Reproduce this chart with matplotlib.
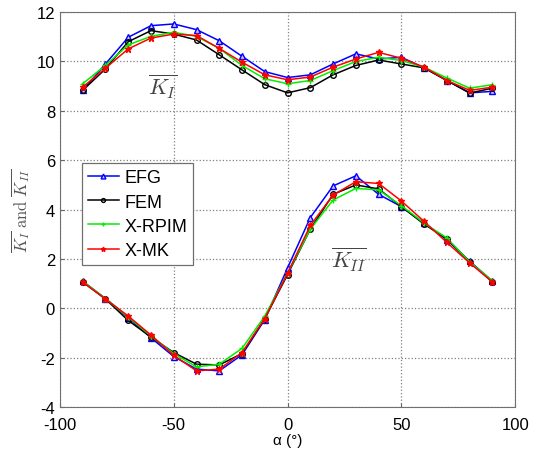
import numpy as np
import matplotlib.pyplot as plt

plt.rcParams['font.family'] = ['Liberation Sans', 'DejaVu Sans']
plt.rcParams['mathtext.fontset'] = 'cm'
plt.rcParams['axes.unicode_minus'] = False

alpha = np.arange(-90, 91, 10)

# K_I (top group)
efg_k1 = [8.83, 9.90, 10.98, 11.45, 11.52, 11.29, 10.84, 10.21, 9.59, 9.35,
          9.46, 9.90, 10.31, 10.10, 10.17, 9.74, 9.23, 8.73, 8.79]
fem_k1 = [8.83, 9.70, 10.80, 11.25, 11.11, 10.87, 10.27, 9.66, 9.06, 8.73,
          8.94, 9.46, 9.84, 10.06, 9.90, 9.74, 9.23, 8.72, 8.92]
rpim_k1 = [9.10, 9.84, 10.67, 11.02, 11.18, 11.02, 10.53, 9.84, 9.30, 9.10,
           9.23, 9.63, 10.00, 10.17, 10.04, 9.77, 9.33, 8.92, 9.06]
mk_k1 = [8.96, 9.73, 10.51, 10.95, 11.11, 11.05, 10.53, 9.97, 9.46, 9.26,
         9.37, 9.77, 10.10, 10.37, 10.13, 9.77, 9.23, 8.83, 8.96]

# K_II (bottom group)
efg_k2 = [1.10, 0.40, -0.38, -1.19, -1.95, -2.46, -2.53, -1.88, -0.45, 1.64,
          3.68, 4.96, 5.37, 4.62, 4.12, 3.45, 2.78, 1.91, 1.10]
fem_k2 = [1.07, 0.38, -0.49, -1.16, -1.79, -2.26, -2.29, -1.83, -0.41, 1.37,
          3.21, 4.62, 5.00, 4.84, 4.12, 3.41, 2.82, 1.88, 1.07]
rpim_k2 = [1.10, 0.40, -0.35, -1.12, -1.83, -2.37, -2.26, -1.62, -0.31, 1.43,
           3.21, 4.39, 4.86, 4.80, 4.16, 3.45, 2.85, 1.88, 1.12]
mk_k2 = [1.07, 0.38, -0.31, -1.08, -1.90, -2.53, -2.46, -1.79, -0.41, 1.43,
         3.36, 4.59, 5.13, 5.06, 4.35, 3.52, 2.67, 1.84, 1.07]

fig = plt.figure(figsize=(5.35, 4.52), dpi=100)
ax = fig.add_axes([0.112, 0.097, 0.851, 0.874])

styles = [
    ('EFG', efg_k1, efg_k2, dict(color='#0000ff', marker='^', ms=5, mfc='#c8c8ff')),
    ('FEM', fem_k1, fem_k2, dict(color='#000000', marker='o', ms=4, mfc='none')),
    ('X-RPIM', rpim_k1, rpim_k2, dict(color='#00ee00', marker='+', ms=5)),
    ('X-MK', mk_k1, mk_k2, dict(color='#ff0000', marker='*', ms=5)),
]
for name, k1, k2, st in styles:
    ax.plot(alpha, k1, lw=1.1, label=name, **st)
    ax.plot(alpha, k2, lw=1.1, **st)

ax.set_xlim(-100, 100)
ax.set_ylim(-4, 12)
ax.set_xticks([-100, -50, 0, 50, 100])
ax.set_yticks(np.arange(-4, 13, 2))
ax.grid(True, linestyle=':', color='#808080', lw=0.9)
ax.tick_params(labelsize=12, direction='in', length=3, color='#666666')
ax.tick_params(axis='x', pad=7)
for s in ax.spines.values():
    s.set_color('#707070')

ax.set_xlabel('α (°)', fontsize=11, labelpad=1)
ax.set_ylabel(r'$\overline{K_I}\ \mathrm{and}\ \overline{K_{II}}$', fontsize=12,
              color='#555555', labelpad=3)

ax.text(-55, 9.0, r'$\overline{K_I}$', fontsize=16, color='#444444',
        ha='center', va='center')
ax.text(27, 2.0, r'$\overline{K_{II}}$', fontsize=16, color='#444444',
        ha='center', va='center')

leg = ax.legend(loc='upper left', bbox_to_anchor=(0.048, 0.618), fontsize=13,
                fancybox=False, framealpha=1, edgecolor='#707070',
                handlelength=1.7, borderpad=0.35, labelspacing=0.4,
                handletextpad=0.3, borderaxespad=0, numpoints=1,
                markerscale=0.7)
leg.get_frame().set_linewidth(0.9)

fig.savefig('out.png', dpi=100)
